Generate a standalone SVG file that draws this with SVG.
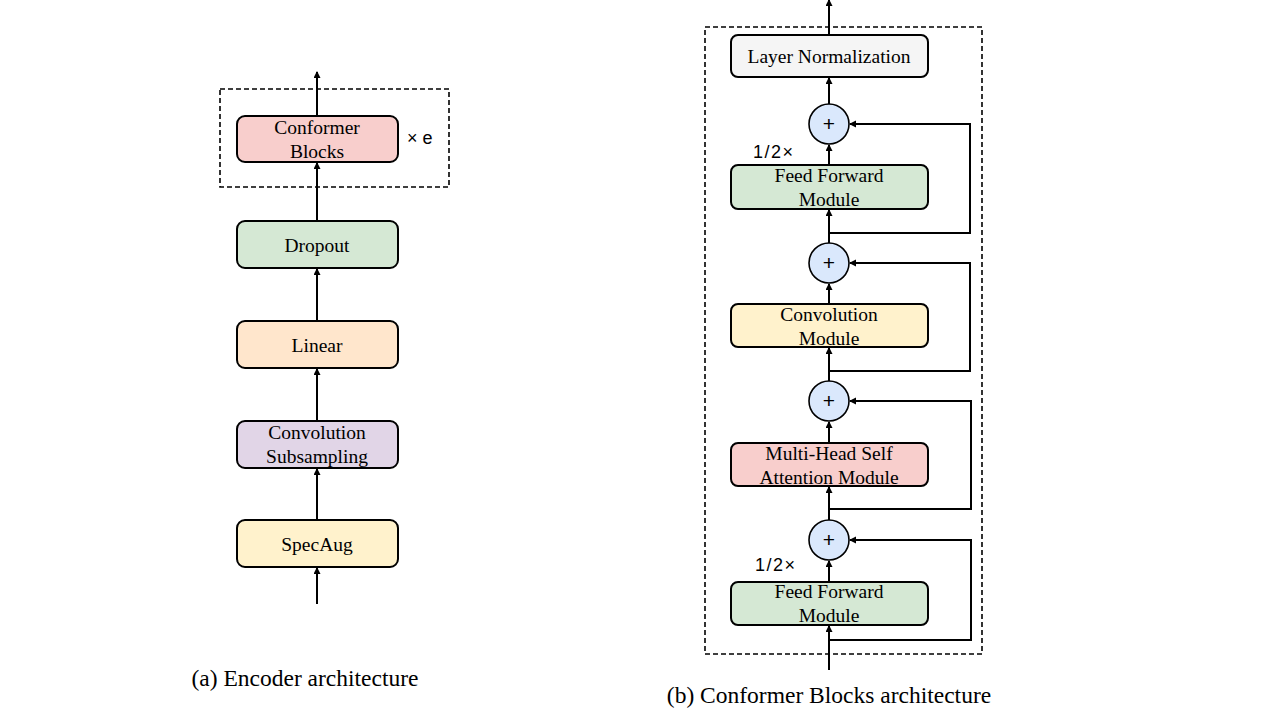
<svg xmlns="http://www.w3.org/2000/svg" width="1280" height="720" viewBox="0 0 1280 720">
<style>
.box{stroke:#000;stroke-width:2}
.t{font-family:"Liberation Serif",serif;font-size:19.5px;fill:#000;text-anchor:middle}
.s{font-family:"Liberation Sans",sans-serif;font-size:18px;fill:#000}
.p{font-family:"Liberation Sans",sans-serif;font-size:21px;fill:#000;text-anchor:middle}
.c{font-family:"Liberation Serif",serif;font-size:23.5px;fill:#000;text-anchor:middle}
.ln{stroke:#000;stroke-width:2;fill:none}
.d{stroke:#000;stroke-width:1.6;fill:none;stroke-dasharray:5,3}
.circ{fill:#dae8fc;stroke:#000;stroke-width:1.6}
</style>
<defs>
<marker id="ah" markerWidth="8" markerHeight="8" refX="6" refY="3.5" orient="auto" markerUnits="userSpaceOnUse">
<path d="M0,0 L7,3.5 L0,7 Z" fill="#000"/>
</marker>
</defs>
<rect width="1280" height="720" fill="#fff"/>
<rect class="d" x="220" y="89" width="229" height="98"/>
<rect class="d" x="705" y="27" width="277" height="627"/>
<g id="connectors">
<line class="ln" x1="317" y1="604" x2="317" y2="568" marker-end="url(#ah)"/>
<line class="ln" x1="317" y1="520" x2="317" y2="469" marker-end="url(#ah)"/>
<line class="ln" x1="317" y1="421" x2="317" y2="369" marker-end="url(#ah)"/>
<line class="ln" x1="317" y1="321" x2="317" y2="269" marker-end="url(#ah)"/>
<line class="ln" x1="317" y1="221" x2="317" y2="163" marker-end="url(#ah)"/>
<line class="ln" x1="317" y1="116" x2="317" y2="72" marker-end="url(#ah)"/>
<line class="ln" x1="829" y1="670" x2="829" y2="626" marker-end="url(#ah)"/>
<line class="ln" x1="829" y1="582" x2="829" y2="561" marker-end="url(#ah)"/>
<line class="ln" x1="829" y1="520" x2="829" y2="487" marker-end="url(#ah)"/>
<line class="ln" x1="829" y1="443" x2="829" y2="422" marker-end="url(#ah)"/>
<line class="ln" x1="829" y1="381" x2="829" y2="348" marker-end="url(#ah)"/>
<line class="ln" x1="829" y1="304" x2="829" y2="284" marker-end="url(#ah)"/>
<line class="ln" x1="829" y1="243" x2="829" y2="210" marker-end="url(#ah)"/>
<line class="ln" x1="829" y1="165" x2="829" y2="145" marker-end="url(#ah)"/>
<line class="ln" x1="829" y1="104" x2="829" y2="78" marker-end="url(#ah)"/>
<line class="ln" x1="829" y1="35" x2="829" y2="0" marker-end="url(#ah)"/>
<polyline class="ln" points="829,640 971,640 971,540 850,540" marker-end="url(#ah)"/>
<polyline class="ln" points="829,509 971,509 971,401 850,401" marker-end="url(#ah)"/>
<polyline class="ln" points="829,371 970,371 970,263 850,263" marker-end="url(#ah)"/>
<polyline class="ln" points="829,233 970,233 970,124 850,124" marker-end="url(#ah)"/>
</g>
<g id="conformer-blocks"><rect class="box" x="237" y="116" width="161" height="46" rx="8" fill="#f8cecc"/><text class="t" x="317" y="134">Conformer</text><text class="t" x="317" y="158">Blocks</text></g>
<text class="s" x="407" y="144" font-size="19">× e</text>
<g id="dropout"><rect class="box" x="237" y="221" width="161" height="47" rx="8" fill="#d5e8d4"/><text class="t" x="317" y="252">Dropout</text></g>
<g id="linear"><rect class="box" x="237" y="321" width="161" height="47" rx="8" fill="#ffe6cc"/><text class="t" x="317" y="352">Linear</text></g>
<g id="conv-sub"><rect class="box" x="237" y="421" width="161" height="47" rx="8" fill="#e1d5e7"/><text class="t" x="317" y="439">Convolution</text><text class="t" x="317" y="463">Subsampling</text></g>
<g id="specaug"><rect class="box" x="237" y="520" width="161" height="47" rx="8" fill="#fff2cc"/><text class="t" x="317" y="551">SpecAug</text></g>
<text class="c" x="305" y="686">(a) Encoder architecture</text>

<g id="layernorm"><rect class="box" x="731" y="35" width="197" height="42" rx="7" fill="#f5f5f5"/><text class="t" x="829" y="63">Layer Normalization</text></g>
<g id="add4"><circle class="circ" cx="829" cy="124" r="20"/><text class="p" x="829" y="131">+</text></g>
<g id="ffm-top"><rect class="box" x="731" y="165" width="197" height="44" rx="7" fill="#d5e8d4"/><text class="t" x="829" y="182">Feed Forward</text><text class="t" x="829" y="206">Module</text></g>
<g id="add3"><circle class="circ" cx="829" cy="263" r="20"/><text class="p" x="829" y="270">+</text></g>
<g id="conv-mod"><rect class="box" x="731" y="304" width="197" height="43" rx="7" fill="#fff2cc"/><text class="t" x="829" y="321">Convolution</text><text class="t" x="829" y="345">Module</text></g>
<g id="add2"><circle class="circ" cx="829" cy="401" r="20"/><text class="p" x="829" y="408">+</text></g>
<g id="mhsa"><rect class="box" x="731" y="443" width="197" height="43" rx="7" fill="#f8cecc"/><text class="t" x="829" y="460">Multi-Head Self</text><text class="t" x="829" y="484">Attention Module</text></g>
<g id="add1"><circle class="circ" cx="829" cy="540" r="20"/><text class="p" x="829" y="547">+</text></g>
<g id="ffm-bot"><rect class="box" x="731" y="582" width="197" height="43" rx="7" fill="#d5e8d4"/><text class="t" x="829" y="598">Feed Forward</text><text class="t" x="829" y="622">Module</text></g>
<text class="s" x="753" y="158" letter-spacing="1.5">1/2×</text>
<text class="s" x="755" y="571" letter-spacing="1.5">1/2×</text>
<text class="c" x="829" y="703">(b) Conformer Blocks architecture</text>
</svg>
